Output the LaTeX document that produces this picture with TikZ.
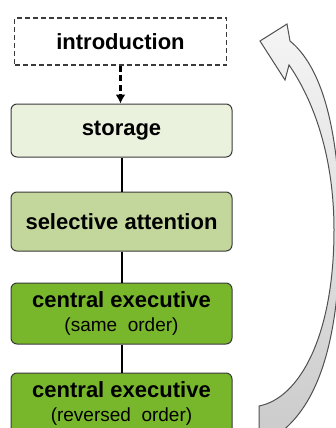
\documentclass[tikz,border=0pt]{standalone}
\usepackage{fontspec}
\setmainfont{Liberation Sans}
\usetikzlibrary{arrows, arrows.meta, calc}
\definecolor{storagegreen}{HTML}{EAF1DD}
\definecolor{attentiongreen}{HTML}{C3D69B}
\definecolor{executivegreen}{HTML}{78B72C}
\definecolor{boxline}{HTML}{3A3A3A}
\definecolor{arrowline}{HTML}{505050}
\newcommand{\ordertext}[1]{{\fontsize{19}{22}\selectfont\mdseries #1}}

\begin{document}
\begin{tikzpicture}[x=1pt, y=-1pt,
	stage/.style={draw=boxline, line width=1pt, rounded corners=6pt, minimum width=221pt, inner sep=0pt, align=center, font=\fontsize{22}{27}\selectfont\bfseries},
	intro/.style={draw=boxline, line width=1.1pt, dash pattern=on 5pt off 3pt, minimum width=212pt, minimum height=47pt, inner sep=0pt, font=\fontsize{22}{27}\selectfont\bfseries},
	link/.style={line width=2pt},
	dashlink/.style={line width=2.6pt, dash pattern=on 6pt off 3.5pt}]
	\useasboundingbox (0,0) rectangle (336,428);
	\clip (0,0) rectangle (336,428);

	\node [intro] (NI) at (120.5,41.5) {introduction};
	\node [stage, fill=storagegreen, minimum height=53pt] (NS) at (121.5,130.5) {storage};
	\node [stage, fill=attentiongreen, minimum height=59pt] (NA) at (121.5,221.5) {selective attention};
	\node [stage, fill=executivegreen, minimum height=61pt] (NC1) at (121.5,313.5) {central executive\\[-3pt]\ordertext{(same\ \ order)}};
	\node [stage, fill=executivegreen, minimum height=61pt] (NC2) at (121.5,403.5) {central executive\\[-3pt]\ordertext{(reversed\ \ order)}};

	\draw [-{Latex[length=9pt, width=10pt]}, dashlink] (NI) -- (NI |- NS.north);
	\draw [link] (NS) -- (NA);
	\draw [link] (NA) -- (NC1);
	\draw [link] (NC1) -- (NC2);

	% curved arrow back to the top
	\coordinate (T0) at (259,406);
	\coordinate (T1) at (259,432);
	\coordinate (T2) at (281,432);
	\coordinate (H0) at (289,65);
	\coordinate (H1) at (285,80);
	\coordinate (H2) at (260,41);
	\coordinate (H3) at (287,24);
	\coordinate (H4) at (290,41);
	\draw [arrowline, line width=1pt, line join=miter, top color=gray!8, middle color=white, bottom color=gray!40]
		(T0) .. controls (300,398) and (334,335) .. (334,230)
		.. controls (334,150) and (310,95) .. (H0)
		-- (H1) -- (H2) -- (H3) -- (H4)
		.. controls (328,72) and (340,150) .. (340,230)
		.. controls (340,330) and (322,400) .. (T2)
		-- (T1) -- cycle;
\end{tikzpicture}
\end{document}
